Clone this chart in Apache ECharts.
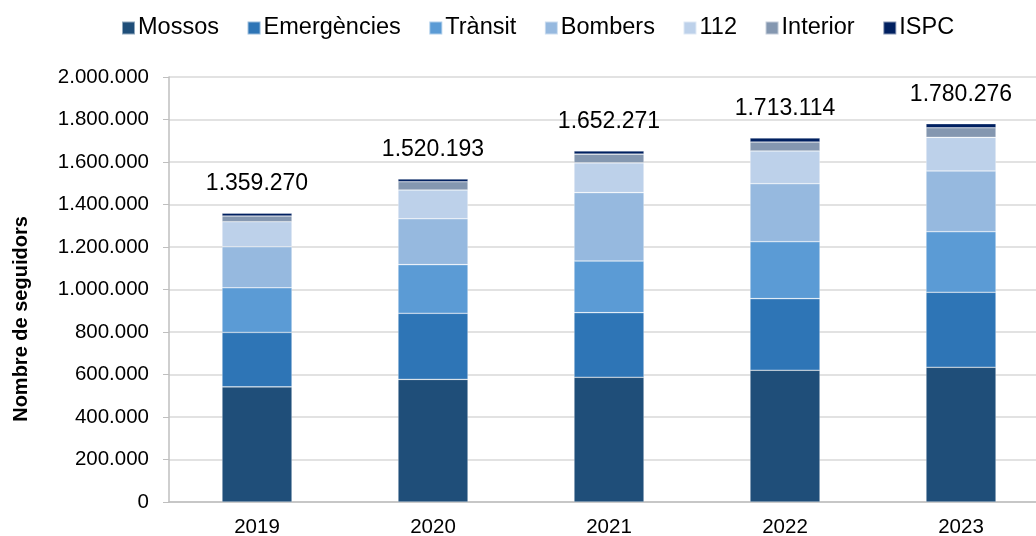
<!DOCTYPE html>
<html>
<head>
<meta charset="utf-8">
<script src="https://cdn.jsdelivr.net/npm/echarts@6/dist/echarts.min.js"></script>
<style>
  html, body { margin: 0; padding: 0; background: #fff; overflow: hidden; }
  #chart { width: 1049px; height: 536px; }
</style>
</head>
<body>
<div id="chart"></div>
<script>
// anys
var years = ['2019', '2020', '2021', '2022', '2023'];

// seguidors per compte
var mossos      = [542000, 577000, 587000, 620000, 634000];
var emergencies = [256000, 311000, 304000, 337000, 353000];
var transit     = [210000, 229000, 243000, 268000, 285000];
var bombers     = [193000, 216000, 322000, 273000, 286000];
var emerg112    = [118000, 135000, 140000, 154000, 158000];
var interior    = [27000, 39000, 41000, 42000, 45000];
var ispc        = [13270, 13193, 15271, 19114, 19276];

var yTicks = [0, 200000, 400000, 600000, 800000, 1000000, 1200000, 1400000, 1600000, 1800000, 2000000];

var seriesNames = ['Mossos', 'Emergències', 'Trànsit', 'Bombers', '112', 'Interior', 'ISPC'];
var seriesData = [mossos, emergencies, transit, bombers, emerg112, interior, ispc];
var colors = ['#1f4e79', '#2e75b6', '#5b9bd5', '#96b9df', '#bdd1ea', '#8497b0', '#002060'];

var totals = years.map(function (y, i) {
    return seriesData.reduce(function (s, arr) { return s + arr[i] }, 0)
});

function fmt(v) {
    return String(Math.round(v)).replace(/\B(?=(\d{3})+(?!\d))/g, '.')
}

var font = 'Liberation Sans, Arial, sans-serif';

var series = seriesNames.map(function (name, k) {
    var s = {
        name: name,
        type: 'bar',
        stack: 'total',
        barWidth: 70,
        data: seriesData[k],
        itemStyle: { color: colors[k], borderColor: 'rgba(255,255,255,0.5)', borderWidth: 0.6 }
    };
    if (k === seriesNames.length - 1) {
        s.label = {
            show: true,
            position: 'top',
            distance: 18,
            fontFamily: font,
            fontSize: 23,
            color: '#000',
            formatter: function (p) { return fmt(totals[p.dataIndex]) }
        }
    }
    return s
});

var chart = echarts.init(document.getElementById('chart'), null, { renderer: 'canvas' });
chart.setOption({
    animation: false,
    backgroundColor: '#fff',
    legend: {
        data: seriesNames,
        left: 121,
        top: 16,
        padding: 0,
        itemWidth: 13,
        itemHeight: 13,
        itemGap: 27.6,
        icon: 'rect',
        textStyle: { fontFamily: font, fontSize: 23.5, color: '#000', padding: [0, 0, 0, -2] }
    },
    grid: { left: 169, top: 77, right: 0, height: 425, containLabel: false, outerBoundsMode: 'none' },
    xAxis: {
        type: 'category',
        data: years,
        axisLine: { lineStyle: { color: '#bfbfbf', width: 1.5 } },
        axisTick: { alignWithLabel: true, length: 5, lineStyle: { color: '#bfbfbf' } },
        axisLabel: { fontFamily: font, fontSize: 20.5, color: '#000', margin: 15 }
    },
    yAxis: {
        type: 'value',
        min: 0,
        max: yTicks[yTicks.length - 1],
        interval: yTicks[1] - yTicks[0],
        axisLine: { show: true, lineStyle: { color: '#bfbfbf', width: 1.5 } },
        axisTick: { show: true, length: 6, lineStyle: { color: '#bfbfbf' } },
        splitLine: { lineStyle: { color: '#d9d9d9', width: 1.5 } },
        axisLabel: { fontFamily: font, fontSize: 20.5, color: '#000', margin: 20, formatter: fmt }
    },
    graphic: [{
        type: 'text',
        x: 21,
        y: 319,
        rotation: Math.PI / 2,
        style: {
            text: 'Nombre de seguidors',
            fontFamily: font,
            fontSize: 20,
            fontWeight: 'bold',
            fill: '#000',
            textAlign: 'center',
            textVerticalAlign: 'middle'
        }
    }],
    series: series
});
</script>
</body>
</html>
